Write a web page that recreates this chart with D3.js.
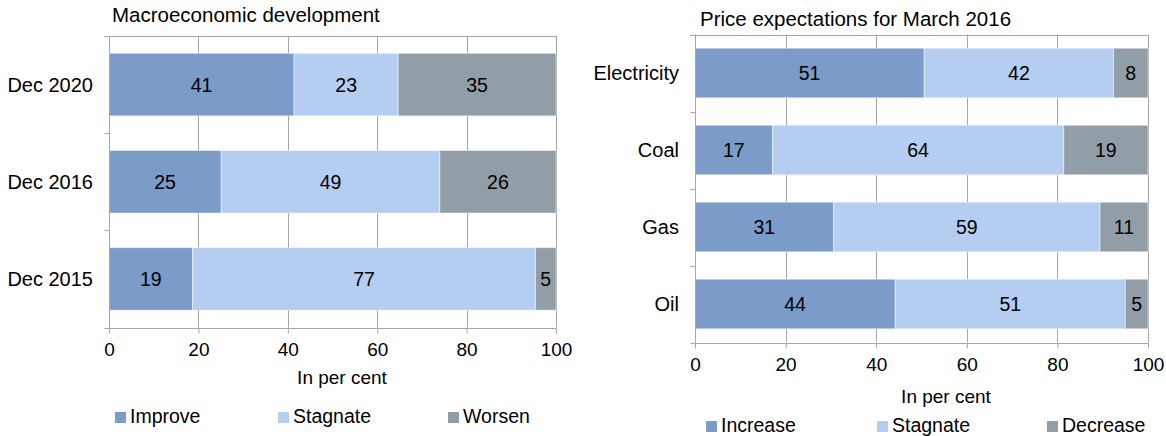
<!DOCTYPE html>
<html>
<head>
<meta charset="utf-8">
<script src="https://cdn.jsdelivr.net/npm/d3@7/dist/d3.min.js"></script>
<style>
  html, body { margin: 0; padding: 0; background: #fff; }
  svg { display: block; }
  text { font-family: "Liberation Sans", Arial, sans-serif; fill: #000; }
</style>
</head>
<body>
<svg id="chart" width="1166" height="436"></svg>
<script>
// ---- Data ----
const macroTitle = "Macroeconomic development";
const macroCategories = ["Dec 2020", "Dec 2016", "Dec 2015"];
const macroSeries = ["Improve", "Stagnate", "Worsen"];
const macroImprove  = [41.4, 25.1, 18.7];
const macroStagnate = [23.3, 48.9, 76.7];
const macroWorsen   = [35.3, 26.0, 4.6];

const priceTitle = "Price expectations for March 2016";
const priceCategories = ["Electricity", "Coal", "Gas", "Oil"];
const priceSeries = ["Increase", "Stagnate", "Decrease"];
const priceIncrease = [50.6, 17.1, 30.6, 44.2];
const priceStagnate = [41.8, 64.3, 58.8, 50.8];
const priceDecrease = [7.6, 18.6, 10.6, 5.0];

const xTicks = [0, 20, 40, 60, 80, 100];
const xAxisTitle = "In per cent";

const colors = ["#7b9bc8", "#b4cdf1", "#919ea8"];
const gridColor = "#a6a6a6";
const FONT_TITLE = 20.5;
const FONT_CAT = 20;
const FONT_LABEL = 19.5;
const FONT_TICK = 19;
const FONT_LEGEND = 19.5;

const svg = d3.select("#chart");

function drawPanel(cfg) {
  const g = svg.append("g");
  const x = d3.scaleLinear().domain([0, 100]).range([cfg.x0, cfg.x1]);
  const y = d3.scaleBand().domain(cfg.categories).range([cfg.y0, cfg.y1])
    .paddingInner(0.356).paddingOuter(0.178);

  // gridlines
  g.append("g").selectAll("line").data(xTicks.filter(t => t > 0)).join("line")
    .attr("x1", d => Math.round(x(d)) + 0.5).attr("x2", d => Math.round(x(d)) + 0.5)
    .attr("y1", cfg.y0).attr("y2", cfg.y1)
    .attr("stroke", gridColor).attr("stroke-width", 1);
  // top border
  g.append("line")
    .attr("x1", cfg.x0 - 5).attr("x2", cfg.x1 + 0.5)
    .attr("y1", Math.round(cfg.y0) + 0.5).attr("y2", Math.round(cfg.y0) + 0.5)
    .attr("stroke", gridColor);

  // stacked data
  const rows = cfg.categories.map((c, i) => {
    const o = { cat: c };
    cfg.series.forEach((s, j) => { o[s] = cfg.values[j][i]; });
    return o;
  });
  const stack = d3.stack().keys(cfg.series)(rows);

  const layers = g.append("g").selectAll("g").data(stack).join("g")
    .attr("fill", (d, i) => colors[i]);
  layers.selectAll("rect").data(d => d.map(p => ({ p, cat: p.data.cat }))).join("rect")
    .attr("x", d => x(d.p[0]))
    .attr("width", d => x(d.p[1]) - x(d.p[0]))
    .attr("y", d => y(d.cat))
    .attr("height", y.bandwidth())
    .attr("stroke", "#ffffff").attr("stroke-opacity", 0.5).attr("stroke-width", 1);

  // data labels
  const fmt = d3.format(".0f");
  layers.selectAll("text").data(d => d.map(p => ({ p, cat: p.data.cat }))).join("text")
    .attr("x", d => (x(d.p[0]) + x(d.p[1])) / 2)
    .attr("y", d => y(d.cat) + y.bandwidth() / 2)
    .attr("dy", "0.36em")
    .attr("text-anchor", "middle")
    .attr("font-size", FONT_LABEL)
    .text(d => fmt(d.p[1] - d.p[0]));

  // bottom axis
  const xAxis = d3.axisBottom(x).tickValues(xTicks).tickSize(5).tickPadding(9).tickFormat(d3.format("d"));
  const ax = g.append("g").attr("transform", `translate(0,${Math.round(cfg.y1) + 0.5})`).call(xAxis);
  ax.select(".domain").attr("stroke", gridColor).attr("d", `M${cfg.x0},0H${cfg.x1 + 0.5}`);
  ax.selectAll(".tick line").attr("stroke", gridColor);
  ax.selectAll(".tick text").attr("font-size", FONT_TICK).attr("font-family", "Liberation Sans, Arial, sans-serif").attr("fill", "#000");

  // left axis (line + boundary ticks + labels)
  const lx = Math.round(cfg.x0) + 0.5;
  g.append("line").attr("x1", lx).attr("x2", lx).attr("y1", cfg.y0).attr("y2", cfg.y1 + 5)
    .attr("stroke", gridColor);
  const bounds = d3.range(cfg.categories.length + 1).map(i => cfg.y0 + i * (cfg.y1 - cfg.y0) / cfg.categories.length);
  g.append("g").selectAll("line").data(bounds).join("line")
    .attr("x1", lx - 5).attr("x2", lx)
    .attr("y1", d => Math.round(d) + 0.5).attr("y2", d => Math.round(d) + 0.5)
    .attr("stroke", gridColor);
  g.append("g").selectAll("text").data(cfg.categories).join("text")
    .attr("x", cfg.x0 - 16)
    .attr("y", d => y(d) + y.bandwidth() / 2)
    .attr("dy", "0.36em")
    .attr("text-anchor", "end")
    .attr("font-size", FONT_CAT)
    .text(d => d);

  // title
  g.append("text").attr("x", cfg.titleX).attr("y", cfg.titleY)
    .attr("font-size", FONT_TITLE).text(cfg.title);

  // axis title
  g.append("text").attr("x", cfg.axisTitleX).attr("y", cfg.axisTitleY)
    .attr("text-anchor", "middle").attr("font-size", FONT_TICK).text(xAxisTitle);

  // legend
  const lg = g.append("g").selectAll("g").data(cfg.series).join("g")
    .attr("transform", (d, i) => `translate(${cfg.legendX[i]},${cfg.legendY})`);
  lg.append("rect").attr("x", 0).attr("y", -11).attr("width", 11).attr("height", 11)
    .attr("fill", (d, i) => colors[i]);
  lg.append("text").attr("x", 15).attr("y", 0).attr("font-size", FONT_LEGEND).text(d => d);
}

drawPanel({
  title: macroTitle, categories: macroCategories, series: macroSeries,
  values: [macroImprove, macroStagnate, macroWorsen],
  x0: 109, x1: 556, y0: 36, y1: 327.5,
  titleX: 112, titleY: 22,
  axisTitleX: 342, axisTitleY: 384,
  legendX: [115, 278, 448], legendY: 423
});

drawPanel({
  title: priceTitle, categories: priceCategories, series: priceSeries,
  values: [priceIncrease, priceStagnate, priceDecrease],
  x0: 695, x1: 1148, y0: 34.5, y1: 342.5,
  titleX: 700, titleY: 26,
  axisTitleX: 946, axisTitleY: 403,
  legendX: [706, 877, 1047], legendY: 432
});
</script>
</body>
</html>
